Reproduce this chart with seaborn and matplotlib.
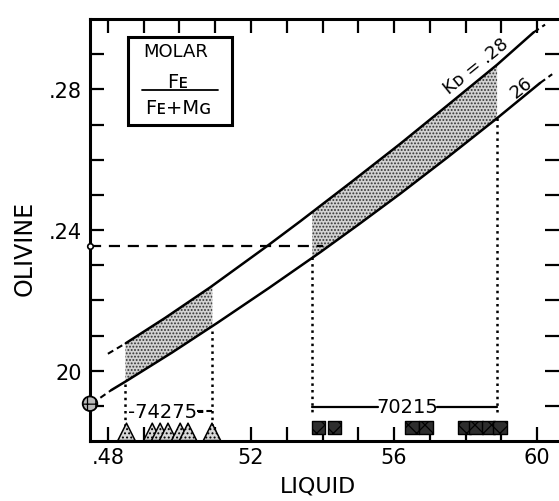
import numpy as np
import pandas as pd
import matplotlib
matplotlib.use("Agg")
import matplotlib.pyplot as plt
from matplotlib.patches import Rectangle
import seaborn as sns

# ---- data (liquid Fe/(Fe+Mg) in %, olivine Fe/(Fe+Mg)) ----
kd28_x = [48.50, 49.60, 50.86, 52.46, 53.38, 54.80, 56.17, 57.50, 58.88, 59.90]
kd28_y = [0.2078, 0.2150, 0.2237, 0.2355, 0.2425, 0.2536, 0.2645, 0.2755, 0.2870, 0.2962]
kd26_x = [48.10, 48.54, 49.80, 51.06, 52.50, 53.94, 55.00, 56.17, 57.50, 58.88, 60.08]
kd26_y = [0.1945, 0.1972, 0.2052, 0.2136, 0.2235, 0.2337, 0.2415, 0.2503, 0.2607, 0.2718, 0.2818]
# dashed extensions of the curves
kd28_ext_left_x = [48.00, 48.50]
kd28_ext_left_y = [0.2048, 0.2078]
kd28_ext_right_x = [59.90, 60.22]
kd28_ext_right_y = [0.2962, 0.2984]
kd26_ext_left_x = [47.55, 48.10]
kd26_ext_left_y = [0.1906, 0.1945]
kd26_ext_right_x = [60.08, 60.42]
kd26_ext_right_y = [0.2818, 0.2843]

# sample ranges (liquid) for the two rocks
band_74275 = [48.49, 50.92]
band_70215 = [53.71, 58.88]

# individual liquid compositions (bottom symbols)
liq_74275 = [48.52, 49.24, 49.46, 49.68, 50.02, 50.24, 50.91]
liq_70215 = [53.88, 54.33, 56.50, 56.89, 57.96, 58.29, 58.63, 58.96]

# olivine values marked on the y axis
olivine_marks = [0.1906, 0.2355]
olivine_dash_end = 54.0

x_ticks = [48, 49, 50, 51, 52, 53, 54, 55, 56, 57, 58, 59, 60]
x_labels = [".48", "", "", "", "52", "", "", "", "56", "", "", "", "60"]
y_ticks = [0.19, 0.20, 0.21, 0.22, 0.23, 0.24, 0.25, 0.26, 0.27, 0.28, 0.29]
y_labels = ["", "20", "", "", "", ".24", "", "", "", ".28", ""]

# ---- figure ----
sns.set_style("white")
plt.rcParams["font.family"] = ["DejaVu Sans"]
plt.rcParams["hatch.linewidth"] = 0.9
for key in ("text.color", "axes.labelcolor", "xtick.color", "ytick.color", "axes.edgecolor"):
    plt.rcParams[key] = "black"

W, H = 559, 502
fig = plt.figure(figsize=(W / 100, H / 100), dpi=100)
ax = fig.add_axes([90 / W, 1 - 442 / H, (W - 90) / W, (442 - 20) / H])
ax.set_xlim(47.5, 60.61)
ax.set_ylim(0.18, 0.30)

# stippled bands between the two curves
for lo, hi in (band_74275, band_70215):
    xs = np.linspace(lo, hi, 40)
    ax.fill_between(xs, np.interp(xs, kd26_x, kd26_y), np.interp(xs, kd28_x, kd28_y),
                    facecolor="#d2d2d2", edgecolor="#333333", hatch=".....", linewidth=0, zorder=1)

# curves
df28 = pd.DataFrame({"x": kd28_x, "y": kd28_y})
df26 = pd.DataFrame({"x": kd26_x, "y": kd26_y})
sns.lineplot(data=df28, x="x", y="y", color="black", lw=1.8, sort=False, ax=ax, zorder=3)
sns.lineplot(data=df26, x="x", y="y", color="black", lw=1.8, sort=False, ax=ax, zorder=3)
for ex, ey in ((kd28_ext_left_x, kd28_ext_left_y), (kd28_ext_right_x, kd28_ext_right_y),
               (kd26_ext_left_x, kd26_ext_left_y), (kd26_ext_right_x, kd26_ext_right_y)):
    ax.plot(ex, ey, color="black", lw=1.5, ls=(0, (3, 2)), zorder=3)

# vertical dotted lines at band limits
ax.plot([band_74275[0]] * 2, [0.1963, 0.1844], color="black", lw=1.8, ls=":", zorder=2)
ax.plot([band_74275[1]] * 2, [0.2113, 0.1835], color="black", lw=1.8, ls=":", zorder=2)
ax.plot([band_70215[0]] * 2, [0.2323, 0.1872], color="black", lw=1.8, ls=":", zorder=2)
ax.plot([band_70215[1]] * 2, [0.2718, 0.1872], color="black", lw=1.8, ls=":", zorder=2)

# horizontal dashed line from the olivine mark
ax.plot([47.5, olivine_dash_end], [olivine_marks[1]] * 2, color="black", lw=1.6,
        ls=(0, (5, 3.5)), zorder=2)

# sample labels
ax.text(49.63, 0.1884, "-74275-", fontsize=14, ha="center", va="center", zorder=4)
ax.plot([50.50, band_74275[1]], [0.1884, 0.1884], color="black", lw=1.5, ls=(0, (3, 1.5)))
ax.text(56.38, 0.1898, "70215", fontsize=14, ha="center", va="center", zorder=4)
ax.plot([band_70215[0], 55.56], [0.1898, 0.1898], color="black", lw=1.6)
ax.plot([57.20, band_70215[1]], [0.1898, 0.1898], color="black", lw=1.6)

# bottom symbols
sns.scatterplot(x=liq_74275, y=[0.1826] * len(liq_74275), marker="^", s=12.5 ** 2,
                facecolor="#d8d8d8", edgecolor="black", linewidth=1.1, hatch="....",
                ax=ax, zorder=5, clip_on=False)
sns.scatterplot(x=liq_70215, y=[0.1838] * len(liq_70215), marker="s", s=9.5 ** 2,
                facecolor="#2e2e2e", edgecolor="black", linewidth=1.0, hatch="xx",
                ax=ax, zorder=5, clip_on=False)

# olivine marks on the y axis
ax.scatter([47.5], [olivine_marks[0]], marker="o", s=10.5 ** 2, facecolor="#bbbbbb",
           edgecolor="black", linewidth=1.3, hatch="++", zorder=6, clip_on=False)
ax.scatter([47.5], [olivine_marks[1]], marker="o", s=4 ** 2, facecolor="white",
           edgecolor="black", linewidth=1.2, zorder=6, clip_on=False)

# curve labels
ax.text(58.29, 0.2868, "Kᴅ = .28", fontsize=13, rotation=39, ha="center", va="center",
        rotation_mode="anchor")
ax.text(59.55, 0.2808, "26", fontsize=13, rotation=39, ha="center", va="center",
        rotation_mode="anchor")

# MOLAR box
ax.add_patch(Rectangle((48.57, 0.2698), 2.91, 0.0252, fill=False, lw=2.2, edgecolor="black", zorder=4))
ax.text(49.89, 0.2908, "MOLAR", fontsize=13, ha="center", va="center")
ax.text(49.95, 0.2823, "Fᴇ", fontsize=14, ha="center", va="center")
ax.plot([48.96, 51.09], [0.2797, 0.2797], color="black", lw=1.3)
ax.text(49.98, 0.2749, "Fᴇ+Mɢ", fontsize=14, ha="center", va="center")

# axes styling
ax.set_xticks(x_ticks)
ax.set_xticklabels(x_labels)
ax.set_yticks(y_ticks)
ax.set_yticklabels(y_labels)
ax.tick_params(axis="both", direction="in", length=10, width=1.6, labelsize=15,
               top=True, right=True, bottom=True, left=True, colors="black")
ax.tick_params(axis="x", pad=4)
ax.tick_params(axis="y", pad=6)
for side in ("left", "top", "bottom"):
    ax.spines[side].set_linewidth(2.2)
    ax.spines[side].set_color("black")
ax.spines["right"].set_visible(False)

ax.set_xlabel("LIQUID", fontsize=16, va="center")
ax.set_ylabel("OLIVINE", fontsize=17, va="center")
ax.xaxis.set_label_coords((318 - 90) / 469, (442 - 487) / 422)
ax.yaxis.set_label_coords((25 - 90) / 469, (442 - 248) / 422)

fig.savefig("out.png", dpi=100, facecolor="white")
